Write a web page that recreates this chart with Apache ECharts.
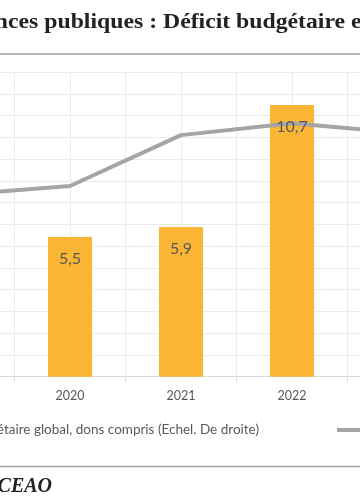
<!DOCTYPE html>
<html>
<head>
<meta charset="utf-8">
<script src="https://cdn.jsdelivr.net/npm/echarts@6/dist/echarts.min.js"></script>
<style>
html,body{margin:0;padding:0;background:#fff;}
#c{width:360px;height:504px;}
</style>
</head>
<body>
<div id="c"></div>
<script>
// Data
var years = ['2019', '2020', '2021', '2022', '2023'];
var deficitValues = [null, 5.5, 5.9, 10.7, null];       // bars, right scale
var lineValues = [41.8, 43.8, 55.5, 58.2, 56.0];         // grey line, left scale
var barName = 'Déficit budgétaire global, dons compris (Echel. De droite)';
var lineName = 'Encours de la dette publique (en % du PIB)';
var titleText = 'Finances publiques : Déficit budgétaire et dette publique';
var sourceText = 'Source : BCEAO';

var chart = echarts.init(document.getElementById('c'), null, {renderer: 'canvas'});
var gray = '#595959';
var font = 'Lato, "Open Sans", sans-serif';

var option = {
  backgroundColor: '#ffffff',
  animation: false,
  grid: {left: -96.5, width: 555, top: 72, height: 304.7, containLabel: false, outerBoundsMode: 'none'},
  xAxis: [
    {
      type: 'category', data: years, position: 'bottom',
      axisLine: {show: true, lineStyle: {color: '#D9D9D9', width: 1}},
      axisTick: {show: true, alignWithLabel: false, length: 5, lineStyle: {color: '#D9D9D9'}},
      axisLabel: {color: gray, fontFamily: font, fontSize: 12.5, margin: 13},
      splitLine: {show: false}
    },
    {
      type: 'value', min: 0, max: 10, interval: 1, position: 'top',
      axisLine: {show: false}, axisTick: {show: false}, axisLabel: {show: false},
      splitLine: {show: true, lineStyle: {color: '#EBEBEB', width: 1}}
    }
  ],
  yAxis: [
    {
      type: 'value', min: 0, max: 70, interval: 5, position: 'left',
      axisLine: {show: false}, axisTick: {show: false}, axisLabel: {show: false},
      splitLine: {show: true, lineStyle: {color: '#EBEBEB', width: 1}}
    },
    {
      type: 'value', min: 0, max: 12, interval: 2, position: 'right',
      axisLine: {show: false}, axisTick: {show: false}, axisLabel: {show: false},
      splitLine: {show: false}
    }
  ],
  legend: [
    {
      data: [barName], right: 101, top: 423, padding: 0,
      itemWidth: 10, itemHeight: 10, itemGap: 10,
      textStyle: {color: gray, fontFamily: font, fontSize: 13.5}
    },
    {
      data: [{name: lineName, icon: 'rect'}], left: 337, top: 423, padding: 0,
      itemWidth: 30, itemHeight: 4,
      textStyle: {color: gray, fontFamily: font, fontSize: 13.5}
    }
  ],
  series: [
    {
      name: barName, type: 'bar', xAxisIndex: 0, yAxisIndex: 1,
      data: deficitValues, barWidth: 44, z: 2,
      itemStyle: {color: '#FBB534'},
      label: {show: false}
    },
    {
      name: lineName, type: 'line', xAxisIndex: 0, yAxisIndex: 0,
      data: lineValues, symbol: 'none', z: 3,
      lineStyle: {color: '#A5A5A5', width: 4},
      itemStyle: {color: '#A5A5A5'}
    },
    {
      name: 'labels', type: 'bar', xAxisIndex: 0, yAxisIndex: 1,
      data: deficitValues, barWidth: 44, barGap: '-100%', z: 4,
      itemStyle: {color: 'rgba(0,0,0,0)'},
      label: {
        show: true, position: 'insideTop', distance: 14,
        color: gray, fontFamily: font, fontSize: 16,
        formatter: function (p) { return p.value == null ? '' : String(p.value).replace('.', ','); }
      },
      silent: true
    }
  ],
  graphic: [
    {
      type: 'text', x: -51.3, y: 23, scaleX: 1.13, scaleY: 1,
      style: {text: titleText, fill: '#222', font: 'bold 21px "Liberation Serif", "Times New Roman", serif', textAlign: 'left', textVerticalAlign: 'middle'}
    },
    {
      type: 'line', shape: {x1: 0, y1: 54, x2: 360, y2: 54},
      style: {stroke: '#9E9E9E', lineWidth: 1.5}
    },
    {
      type: 'line', shape: {x1: 0, y1: 466.5, x2: 360, y2: 466.5},
      style: {stroke: '#9E9E9E', lineWidth: 1.5}
    },
    {
      type: 'text', x: 52, y: 487,
      style: {text: sourceText, fill: '#222', font: 'italic bold 20px "Liberation Serif", "Times New Roman", serif', textAlign: 'right', textVerticalAlign: 'middle'}
    }
  ]
};
chart.setOption(option);
</script>
</body>
</html>
